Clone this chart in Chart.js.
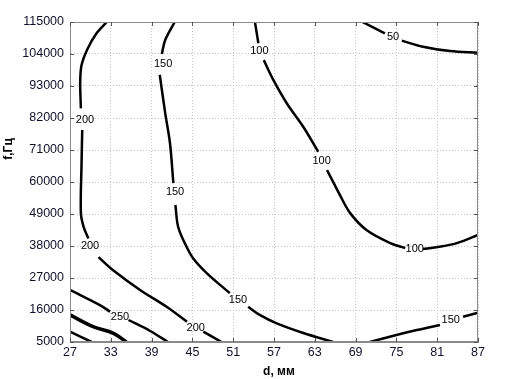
<!DOCTYPE html>
<html>
<head>
<meta charset="utf-8">
<script src="https://cdn.jsdelivr.net/npm/chart.js@4/dist/chart.umd.min.js"></script>
<style>
  body { margin: 0; background: #fff; }
  canvas { display: block; }
</style>
</head>
<body>
<canvas id="chart" width="510" height="379"></canvas>
<script>
// оси
const xTicks = [27, 33, 39, 45, 51, 57, 63, 69, 75, 81, 87];
const yTicks = [5000, 16000, 27000, 38000, 49000, 60000, 71000, 82000, 93000, 104000, 115000];
const xTitle = 'd, мм';
const yTitle = 'f,Гц';

// изолинии: [d, f], null = разрыв под подпись
const c50 = [
  [70.0, 115000], [73.3, 111100], null,
  [75.8, 108600], [78.9, 106500], [82.9, 105000], [87, 104450]
];
const c100 = [
  [54.2, 115000], [54.7, 107700], null,
  [55.5, 101900], [56.9, 95100], [58.9, 87000], [61.3, 79000], [63.5, 70400], null,
  [64.8, 64100], [66.7, 55500], [68.2, 49300], [70.6, 43500], [74.1, 39000], [76.3, 37300], null,
  [78.9, 37000], [80.9, 37550], [83.9, 39000], [87, 41800]
];
const c150 = [
  [42.4, 115000], [41.0, 108800], [40.5, 104000], null,
  [40.2, 96800], [41.0, 83700], [41.7, 73400], [42.2, 59600], null,
  [42.5, 52100], [42.9, 44600], [43.9, 38900], [45.1, 33800], [47.1, 28700], [50.5, 21800], null,
  [53.2, 17100], [54.9, 14300], [57.4, 11400], [61.3, 8100], [65.7, 5000]
];
const c150b = [
  [71.1, 5000], [75.0, 7400], [78.0, 9100], [81.4, 10850], null,
  [84.8, 13700], [87, 15070]
];
const c200 = [
  [32.4, 115000], [30.9, 111100], [29.5, 105400], [28.7, 100200], [28.5, 94500], [28.6, 85300], null,
  [28.8, 77900], [28.7, 66500], [28.6, 49300], [29.0, 44600], [29.7, 40600], null,
  [31.2, 34200], [33.3, 29750], [37.3, 22900], [41.2, 17100], [44.2, 12000], null,
  [46.6, 8540], [49.3, 5000]
];
const c250 = [
  [27, 22900], [31.4, 17700], [32.9, 15400], null,
  [35.6, 12560], [38.8, 8780], [41.4, 5000]
];
const c300 = [[27, 14300], [30.4, 10260], [33.4, 7990], [35.3, 5000]];
const c350 = [[27, 8540], [30.2, 5000]];

// подписи изолиний
const labelText = ['50', '100', '100', '100', '150', '150', '150', '150', '200', '200', '200', '250'];
const labelD = [74.5, 54.85, 64.0, 77.7, 40.7, 42.45, 51.7, 83.0, 29.2, 29.95, 45.5, 34.35];
const labelF = [109950, 105200, 67100, 37150, 100550, 56450, 19450, 12550, 81300, 38000, 9800, 13750];

const toPoints = arr => arr.map(p => p ? { x: p[0], y: p[1] } : { x: null, y: null });

function line(arr, width) {
  return {
    data: toPoints(arr),
    borderColor: '#000',
    borderWidth: width || 2.5,
    pointRadius: 0,
    tension: 0.35,
    spanGaps: false,
    fill: false
  };
}

const FONT = '"Liberation Sans", Arial, sans-serif';

// рамка и засечки как в matlab
const framePlugin = {
  id: 'frame',
  afterDraw(chart) {
    const { ctx, chartArea: a, scales } = chart;
    ctx.save();
    ctx.strokeStyle = '#8a8a8a';
    ctx.lineWidth = 1;
    ctx.strokeRect(a.left + 0.5, a.top + 0.5, a.right - a.left - 1, a.bottom - a.top - 1);
    ctx.strokeStyle = '#555';
    ctx.beginPath();
    xTicks.forEach(v => {
      const x = Math.round(scales.x.getPixelForValue(v)) + 0.5;
      ctx.moveTo(x, a.bottom); ctx.lineTo(x, a.bottom - 4);
      ctx.moveTo(x, a.top); ctx.lineTo(x, a.top + 4);
    });
    yTicks.forEach(v => {
      const y = Math.round(scales.y.getPixelForValue(v)) + 0.5;
      ctx.moveTo(a.left, y); ctx.lineTo(a.left + 4, y);
      ctx.moveTo(a.right, y); ctx.lineTo(a.right - 4, y);
    });
    ctx.stroke();
    ctx.restore();
  }
};

// подписи уровней и названия осей
const labelPlugin = {
  id: 'labels',
  afterDatasetsDraw(chart) {
    const { ctx, scales } = chart;
    ctx.save();
    ctx.fillStyle = '#000';
    ctx.font = '11px ' + FONT;
    ctx.textAlign = 'center';
    ctx.textBaseline = 'middle';
    labelText.forEach((t, i) => {
      ctx.fillText(t, scales.x.getPixelForValue(labelD[i]), scales.y.getPixelForValue(labelF[i]));
    });
    ctx.font = 'bold 12px ' + FONT;
    ctx.fillText(xTitle, 279, 372);
    ctx.translate(9, 149);
    ctx.rotate(-Math.PI / 2);
    ctx.fillText(yTitle, 0, 0);
    ctx.restore();
  }
};

new Chart(document.getElementById('chart'), {
  type: 'line',
  data: {
    datasets: [c50, c100, c150, c150b, c200, c250].map(a => line(a))
      .concat([line(c300, 3.6), line(c350)])
  },
  options: {
    responsive: false,
    devicePixelRatio: 1,
    animation: false,
    layout: { padding: { top: 22, right: 32, left: 0, bottom: 0 } },
    plugins: { legend: { display: false }, tooltip: { enabled: false } },
    scales: {
      x: {
        type: 'linear',
        min: 27,
        max: 87,
        afterBuildTicks: s => { s.ticks = xTicks.map(v => ({ value: v })); },
        afterFit: s => { s.height = 37; },
        ticks: { color: '#10102a', font: { family: FONT, size: 12.5 }, padding: 3 },
        grid: { color: '#c4c4c4', drawTicks: false },
        border: { display: true, color: '#8a8a8a', dash: [1, 2] }
      },
      y: {
        type: 'linear',
        min: 5000,
        max: 115000,
        afterBuildTicks: s => { s.ticks = yTicks.map(v => ({ value: v })); },
        afterFit: s => { s.width = 70; },
        ticks: { color: '#10102a', font: { family: FONT, size: 12.5 }, padding: 6, callback: v => String(v) },
        grid: { color: '#c4c4c4', drawTicks: false },
        border: { display: true, color: '#8a8a8a', dash: [1, 2] }
      }
    }
  },
  plugins: [framePlugin, labelPlugin]
});
</script>
</body>
</html>
